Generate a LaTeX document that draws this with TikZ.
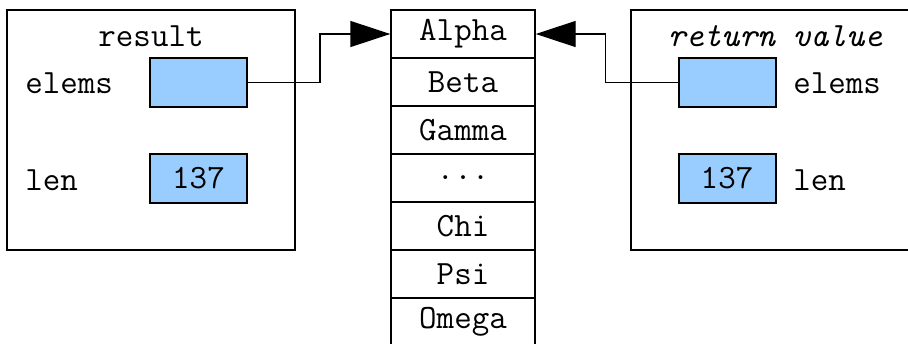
\documentclass[tikz,border=0pt]{standalone}
\usetikzlibrary{arrows.meta, positioning, calc}
\definecolor{slotblue}{HTML}{99CCFF}

\begin{document}
\begin{tikzpicture}[x=0.5pt, y=-0.5pt, font=\ttfamily\fontsize{17}{20}\selectfont,
    frame/.style={draw, line width=1pt, minimum width=144pt, minimum height=120pt, inner sep=0pt},
    slot/.style={draw, line width=1pt, fill=slotblue, minimum width=48.5pt, minimum height=24.5pt, inner sep=0pt},
    cell/.style={draw, line width=0.7pt, minimum width=72pt, minimum height=24pt, inner sep=0pt},
    ptr/.style={line width=0.7pt, -{Triangle[length=20pt, width=13pt]}}]
    \useasboundingbox (0,0) rectangle (908,343);
    \clip (0,0) rectangle (908,343);

    % the struct on the left
    \node[frame] (result) at (151,130) {};
    \node (resultname) at (151,36) {result};
    \node[anchor=west, inner sep=0pt] (lelemsname) at (25,83) {elems};
    \node[anchor=west, inner sep=0pt] (llenname) at (25,180) {len};
    \node[slot] (lelems) at (198.5,82.5) {};
    \node[slot] (llen) at (198.5,178) {137};

    % the array
    \node[cell] (Alpha) at (463,34) {Alpha};
    \node[cell] (Beta) at (463,82) {Beta};
    \node[cell] (Gamma) at (463,130) {Gamma};
    \node[cell] (Dots) at (463,178) {...};
    \node[cell] (Chi) at (463,226) {Chi};
    \node[cell] (Psi) at (463,274) {Psi};
    \node[cell] (Omega) at (463,322) {Omega};

    % the struct on the right
    \node[frame] (retval) at (775,130) {};
    \node (retvalname) at (775,36) {\itshape return value};
    \node[slot] (relems) at (727,82.5) {};
    \node[slot] (rlen) at (727,178) {137};
    \node[anchor=west, inner sep=0pt] (relemsname) at (793,83) {elems};
    \node[anchor=west, inner sep=0pt] (rlenname) at (793,180) {len};

    \draw[ptr] (lelems.east) -- ++(36pt,0) |- (Alpha.west);
    \draw[ptr] (relems.west) -- ++(-36pt,0) |- (Alpha.east);
\end{tikzpicture}
\end{document}
